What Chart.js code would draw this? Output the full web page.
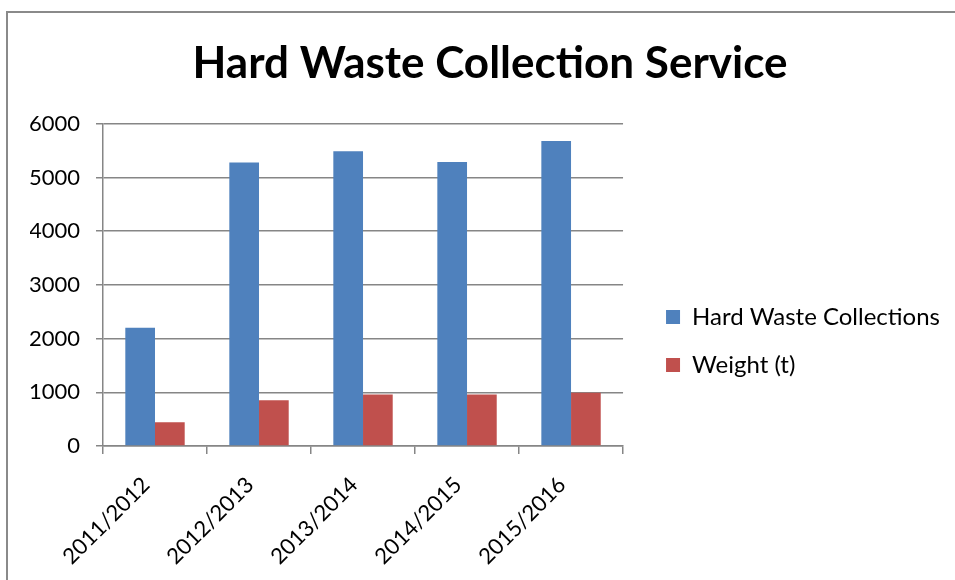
<!DOCTYPE html>
<html>
<head>
<meta charset="utf-8">
<script src="https://cdn.jsdelivr.net/npm/chart.js@4.4.1/dist/chart.umd.min.js"></script>
<style>
  html, body { margin: 0; padding: 0; background: #fff; overflow: hidden; }
  #wrap { position: relative; width: 955px; height: 580px; }
  #frame { position: absolute; left: 6px; top: 11px; width: 1000px; height: 620px; border: 2px solid #8a8a8a; }
  canvas { position: absolute; left: 0; top: 0; }
</style>
</head>
<body>
<div id="wrap">
  <div id="frame"></div>
  <canvas id="chart" width="955" height="580"></canvas>
</div>
<script>
const seasons = ['2011/2012', '2012/2013', '2013/2014', '2014/2015', '2015/2016'];
const collections = [2200, 5280, 5490, 5290, 5680];
const weightTonnes = [440, 850, 960, 960, 990];
const yTicks = [0, 1000, 2000, 3000, 4000, 5000, 6000];

const gridColor = '#868686';
const fontFamily = 'Lato, "Open Sans", sans-serif';

const ctx = document.getElementById('chart').getContext('2d');
new Chart(ctx, {
  type: 'bar',
  data: {
    labels: seasons,
    datasets: [
      { label: 'Hard Waste Collections', data: collections, backgroundColor: '#4F81BD' },
      { label: 'Weight (t)', data: weightTonnes, backgroundColor: '#C0504D' }
    ]
  },
  options: {
    responsive: false,
    animation: false,
    categoryPercentage: 0.571,
    barPercentage: 1,
    layout: { padding: { left: 30, right: 5, top: 0, bottom: 0 } },
    plugins: {
      tooltip: { enabled: false },
      title: {
        display: true,
        text: 'Hard Waste Collection Service',
        color: '#000',
        font: { family: fontFamily, size: 44, weight: 'bold', lineHeight: 1.2 },
        padding: { top: 37, bottom: 34 }
      },
      legend: {
        position: 'right',
        fullSize: false,
        maxWidth: 330,
        // empty title only pushes the two items down to where the original sits
        title: { display: true, text: ' ', font: { size: 10 }, padding: { top: 100, bottom: 0 } },
        labels: {
          color: '#000',
          boxWidth: 14,
          boxHeight: 14,
          padding: 24,
          font: { family: fontFamily, size: 24 }
        }
      }
    },
    scales: {
      x: {
        grid: { display: true, drawOnChartArea: false, drawTicks: true, tickLength: 8, color: gridColor, lineWidth: 1.5 },
        border: { color: gridColor, width: 1.5 },
        ticks: { color: '#000', minRotation: 45, maxRotation: 45, padding: 18, labelOffset: -9, font: { family: fontFamily, size: 22 } },
        afterFit: s => { s.height = 134; }
      },
      y: {
        min: 0,
        max: 6000,
        afterBuildTicks: s => { s.ticks = yTicks.map(v => ({ value: v })); },
        grid: { color: gridColor, lineWidth: 1.5, tickLength: 7 },
        border: { color: gridColor, width: 1.5 },
        ticks: { color: '#000', padding: 16, font: { family: fontFamily, size: 22 }, callback: v => String(v) },
        afterFit: s => { s.width = 73; }
      },
      // blank strip between the plot and the legend
      gap: {
        position: 'right',
        display: true,
        grid: { display: false },
        border: { display: false },
        ticks: { display: false },
        afterFit: s => { s.width = 19; }
      }
    }
  }
});
</script>
</body>
</html>
